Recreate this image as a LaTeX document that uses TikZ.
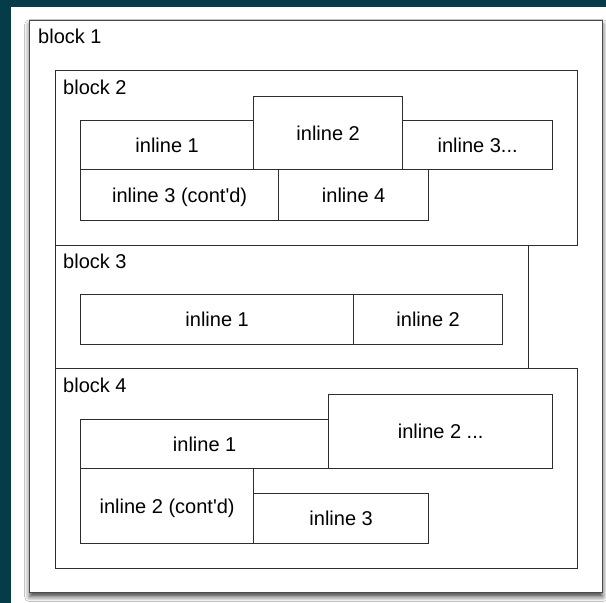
\documentclass[tikz,border=0pt]{standalone}
\usepackage{fontspec}
\setmainfont{Liberation Sans}
\usetikzlibrary{calc,shadows.blur}
\definecolor{bgteal}{RGB}{6,59,74}
\definecolor{edge}{RGB}{45,45,45}
\definecolor{outeredge}{RGB}{75,75,75}
\begin{document}
\begin{tikzpicture}[x=1pt,y=-1pt,
  font=\fontsize{20}{24}\selectfont,
  blk/.style={draw=edge, line width=1.3pt, inner sep=0pt, anchor=north west},
  ibox/.style={draw=edge, line width=1.3pt, inner sep=0pt, anchor=north west,
               text height=14.3pt, text depth=0pt},
  lbl/.style={anchor=base west, inner sep=0pt}]
\useasboundingbox (0,0) rectangle (606,603);
\fill[bgteal] (0,0) rectangle (606,603);
\fill[white] (11,7) rectangle (606,603);

% block 1
\node[blk, draw=outeredge, fill=white, minimum width=573pt, minimum height=572pt,
      blur shadow={shadow xshift=0pt, shadow yshift=-4pt, shadow blur radius=5pt, shadow opacity=75}]
      (b1) at (29,20) {};
\node[lbl] (l1) at ($(b1.north west)+(9,23)$) {block 1};

% block 2
\node[blk, minimum width=522pt, minimum height=175pt] (b2) at (55,70) {};
\node[lbl] (l2) at ($(b2.north west)+(8,24)$) {block 2};
\node[ibox, minimum width=173pt, minimum height=49pt] (b2i1) at (80,120) {inline 1};
\node[ibox, minimum width=149pt, minimum height=73pt] (b2i2) at (253,96) {inline 2};
\node[ibox, minimum width=150pt, minimum height=49pt] (b2i3) at (402,120) {inline 3...};
\node[ibox, minimum width=198pt, minimum height=51pt] (b2i3c) at (80,169) {inline 3 (cont\textquotesingle d)};
\node[ibox, minimum width=150pt, minimum height=51pt] (b2i4) at (278,169) {inline 4};

% block 3
\node[blk, minimum width=473pt, minimum height=123pt] (b3) at (55,245) {};
\node[lbl] (l3) at ($(b3.north west)+(8,23)$) {block 3};
\node[ibox, minimum width=273pt, minimum height=50pt] (b3i1) at (80,294) {inline 1};
\node[ibox, minimum width=149pt, minimum height=50pt] (b3i2) at (353,294) {inline 2};

% block 4
\node[blk, minimum width=522pt, minimum height=200pt] (b4) at (55,368) {};
\node[lbl] (l4) at ($(b4.north west)+(8,24)$) {block 4};
\node[ibox, minimum width=248pt, minimum height=49pt] (b4i1) at (80,419) {inline 1};
\node[ibox, minimum width=224pt, minimum height=74pt] (b4i2) at (328,394) {inline 2 ...};
\node[ibox, minimum width=173pt, minimum height=75pt] (b4i2c) at (80,468) {inline 2 (cont\textquotesingle d)};
\node[ibox, minimum width=175pt, minimum height=50pt] (b4i3) at (253,493) {inline 3};
\end{tikzpicture}
\end{document}
